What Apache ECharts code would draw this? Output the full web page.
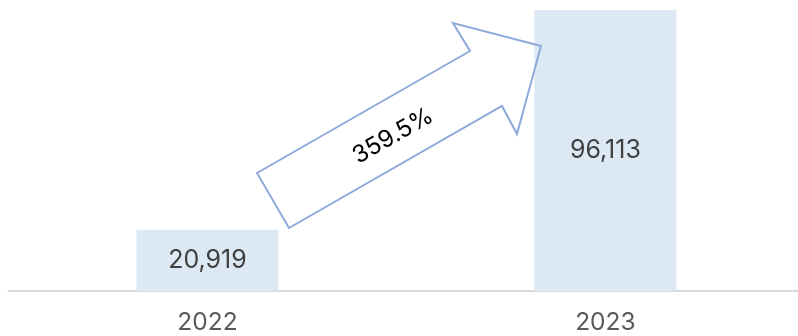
<!DOCTYPE html>
<html>
<head>
<meta charset="utf-8">
<script src="https://cdn.jsdelivr.net/npm/echarts@6/dist/echarts.min.js"></script>
<style>
  html, body { margin: 0; padding: 0; background: #fff; }
  #chart { width: 798px; height: 336px; }
</style>
</head>
<body>
<div id="chart"></div>
<script>
var years = ['2022', '2023'];
var values = [20919, 96113];
var growthText = '359.5%';

var myChart = echarts.init(document.getElementById('chart'));
var option = {
    animation: false,
    grid: { left: 8.5, right: 0, top: 10, bottom: 45 },
    xAxis: {
        type: 'value',
        min: -0.5,
        max: 1.484,
        splitLine: { show: false },
        axisLine: { show: true, onZero: false, lineStyle: { color: '#d9d9d9', width: 2 } },
        axisTick: { show: false },
        axisLabel: {
            customValues: [0, 1],
            formatter: function (v) { return years[Math.round(v)]; },
            color: '#595959',
            fontSize: 24.5,
            fontFamily: 'Inter',
            margin: 19
        }
    },
    yAxis: {
        type: 'value',
        min: 0,
        max: 96113,
        show: false,
        splitLine: { show: false }
    },
    series: [{
        type: 'bar',
        data: values.map(function (v, i) { return [i, v]; }),
        barWidth: 142,
        itemStyle: { color: '#dde8f5' },
        label: {
            show: true,
            position: 'inside',
            color: '#404040',
            fontSize: 25,
            fontFamily: 'Inter',
            formatter: function (p) { return p.value[1].toLocaleString('en-US'); }
        }
    }],
    graphic: [
        {
            type: 'polygon',
            z: 100,
            shape: {
                points: [[257, 173], [289, 228], [502, 106], [517, 134],
                         [541, 46], [453, 23], [470, 51]]
            },
            style: { fill: 'none', stroke: '#8eaadb', lineWidth: 2 }
        },
        {
            type: 'text',
            z: 100,
            x: 393,
            y: 136,
            rotation: 0.52,
            style: {
                text: growthText,
                fill: '#000',
                fontSize: 24,
                fontFamily: 'Inter',
                align: 'center',
                verticalAlign: 'middle'
            }
        }
    ]
};
myChart.setOption(option);
</script>
</body>
</html>
